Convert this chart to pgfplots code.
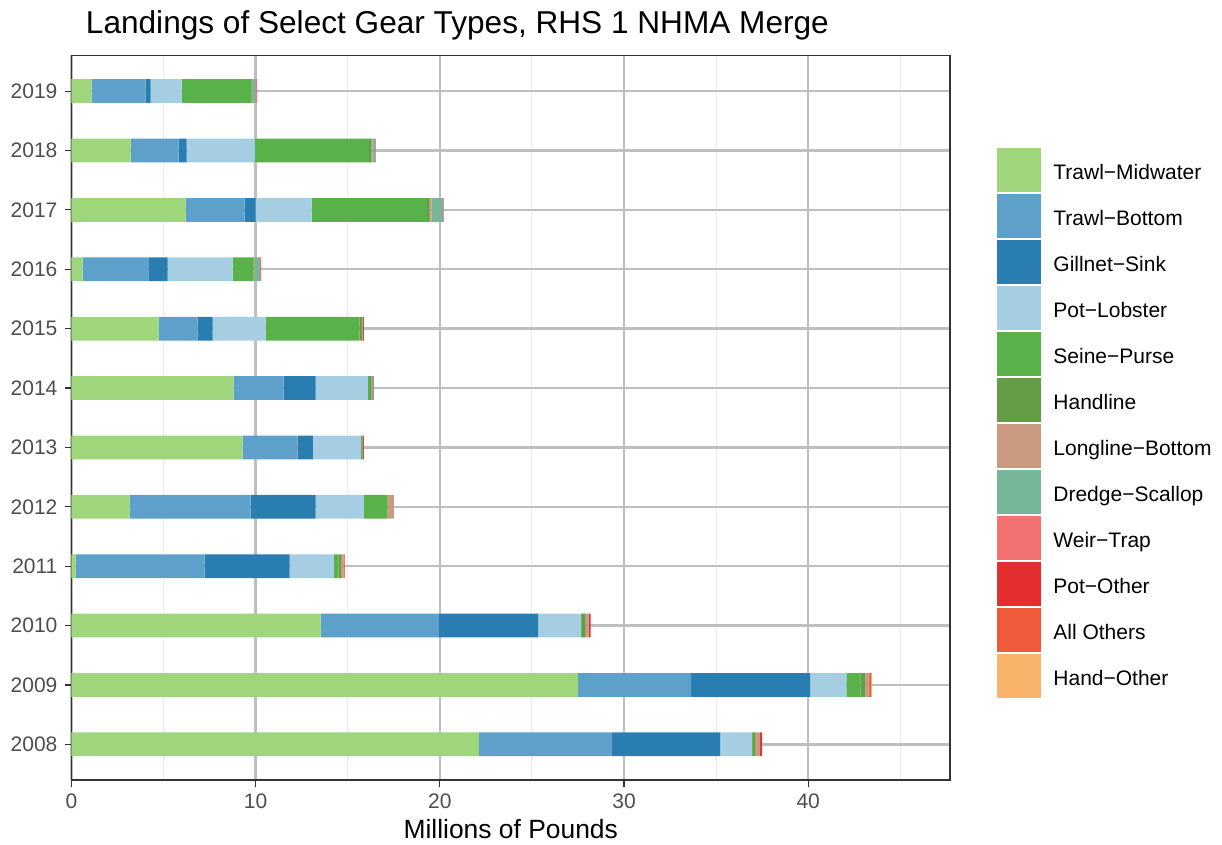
\documentclass[border=0pt]{standalone}
\usepackage{pgfplots}
\usepackage{pgfplotstable}
\pgfplotsset{compat=1.18}
\usepackage{fontspec}
\setmainfont{Liberation Sans}

\definecolor{cTM}{HTML}{A0D67B}
\definecolor{cTB}{HTML}{5DA0CA}
\definecolor{cGS}{HTML}{2A7DB0}
\definecolor{cPL}{HTML}{A6CEE3}
\definecolor{cSP}{HTML}{59B249}
\definecolor{cHL}{HTML}{649D46}
\definecolor{cLB}{HTML}{C99A7F}
\definecolor{cDS}{HTML}{78B69A}
\definecolor{cWT}{HTML}{F27272}
\definecolor{cPO}{HTML}{E42E2F}
\definecolor{cAO}{HTML}{EE5A3A}
\definecolor{cHO}{HTML}{FAB36A}
\definecolor{tickgray}{HTML}{4D4D4D}
\definecolor{framegray}{HTML}{333333}

\pgfplotstableread{
idx TM TB GS PL SP HL LB DS WT PO AO HO
0 22.12 7.23 5.87 1.74 0.11 0.05 0.27 0 0 0.11 0 0
1 27.50 6.14 6.47 1.96 0.76 0.27 0.22 0 0 0.05 0.03 0.05
2 13.53 6.42 5.38 2.34 0.05 0.20 0.16 0 0 0.10 0 0
3 0.22 7.01 4.62 2.39 0.27 0.11 0.16 0 0 0.05 0 0
4 3.15 6.58 3.53 2.61 1.30 0 0.33 0 0 0 0 0
5 9.29 2.99 0.82 2.61 0.05 0.05 0.02 0 0 0.05 0 0
6 8.80 2.72 1.74 2.83 0.11 0.05 0.02 0.09 0 0.05 0 0
7 4.73 2.12 0.81 2.88 5.11 0.15 0.03 0 0 0.05 0 0
8 0.60 3.58 1.04 3.53 1.11 0.03 0.05 0.30 0.02 0.03 0 0
9 6.20 3.20 0.60 3.04 6.25 0.15 0.11 0.63 0.02 0.02 0 0
10 3.21 2.61 0.43 3.70 6.21 0.13 0.05 0.15 0.02 0.02 0 0
11 1.09 2.93 0.27 1.69 3.78 0.04 0.05 0.18 0.02 0.03 0 0
}\landings

\begin{document}
\begin{tikzpicture}
\begin{axis}[
  name=ax,
  scale only axis,
  width=439.25pt, height=362.25pt,
  xbar stacked,
  bar width=0.4,
  xmin=0, xmax=47.7,
  ymin=-0.6, ymax=11.6,
  ytick={0,...,11},
  yticklabels={2008,2009,2010,2011,2012,2013,2014,2015,2016,2017,2018,2019},
  xtick={0,10,20,30,40},
  minor xtick={5,15,25,35,45},
  xtick pos=bottom, ytick pos=left,
  tick align=outside,
  major tick length=3.5pt,
  minor tick length=0pt,
  tick style={framegray, line width=0.6pt},
  axis line style={framegray, line width=0.6pt},
  xmajorgrids, ymajorgrids, xminorgrids,
  major grid style={color=black!25, line width=1.2pt},
  minor grid style={color=black!8, line width=0.55pt},
  /pgf/number format/assume math mode=true,
  ticklabel style={font=\fontsize{10.5}{12}\selectfont, text=tickgray},
  xlabel={Millions of Pounds},
  xlabel style={font=\fontsize{13.2}{15}\selectfont, at={(axis description cs:0.5,0)}, anchor=base, yshift=-29pt},
  title={Landings of Select Gear Types, RHS 1 NHMA Merge},
  title style={font=\fontsize{15.8}{18}\selectfont, at={(axis description cs:0,1)}, anchor=base west, xshift=3.7pt, yshift=5pt},
  legend cell align=left,
  legend style={at={(1.0535,0.8723)}, anchor=north west, draw=none, fill=none,
    inner sep=0pt, row sep=1pt, font=\fontsize{10.5}{12}\selectfont,
    /tikz/every odd column/.append style={column sep=4pt}},
  legend image code/.code={\fill[#1,draw=none] (0pt,-9.7pt) rectangle (22pt,12.3pt);},
  every axis plot/.append style={draw=none},
]
\addplot[fill=cTM] table[x=TM,y=idx]{\landings}; \addlegendentry{Trawl−Midwater}
\addplot[fill=cTB] table[x=TB,y=idx]{\landings}; \addlegendentry{Trawl−Bottom}
\addplot[fill=cGS] table[x=GS,y=idx]{\landings}; \addlegendentry{Gillnet−Sink}
\addplot[fill=cPL] table[x=PL,y=idx]{\landings}; \addlegendentry{Pot−Lobster}
\addplot[fill=cSP] table[x=SP,y=idx]{\landings}; \addlegendentry{Seine−Purse}
\addplot[fill=cHL] table[x=HL,y=idx]{\landings}; \addlegendentry{Handline}
\addplot[fill=cLB] table[x=LB,y=idx]{\landings}; \addlegendentry{Longline−Bottom}
\addplot[fill=cDS] table[x=DS,y=idx]{\landings}; \addlegendentry{Dredge−Scallop}
\addplot[fill=cWT] table[x=WT,y=idx]{\landings}; \addlegendentry{Weir−Trap}
\addplot[fill=cPO] table[x=PO,y=idx]{\landings}; \addlegendentry{Pot−Other}
\addplot[fill=cAO] table[x=AO,y=idx]{\landings}; \addlegendentry{All Others}
\addplot[fill=cHO] table[x=HO,y=idx]{\landings}; \addlegendentry{Hand−Other}
\end{axis}
\pgfresetboundingbox
\path ([xshift=-35.75pt,yshift=-32pt]ax.south west) rectangle ([xshift=136pt,yshift=27.75pt]ax.north east);
\end{tikzpicture}
\end{document}
